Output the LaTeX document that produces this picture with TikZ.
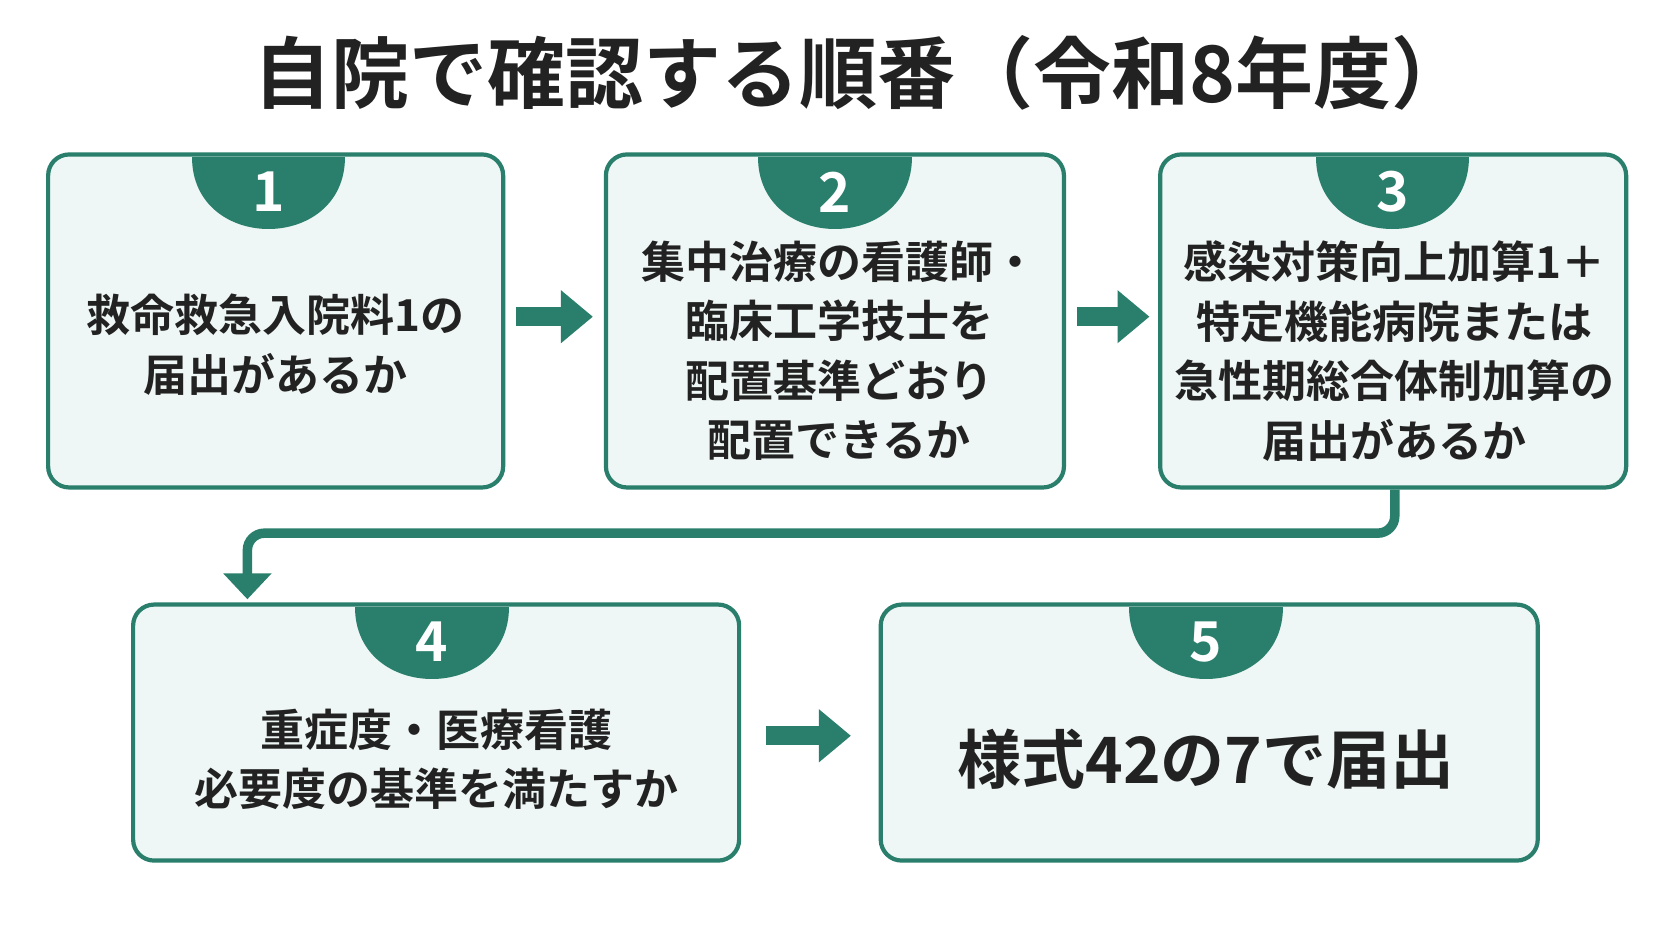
\documentclass[tikz,border=0pt]{standalone}
\usepackage{fontspec}
\setmainfont{Noto Sans CJK JP}[BoldFont={* Bold}]
\usetikzlibrary{arrows.meta}
\definecolor{teal1}{HTML}{2A7F6C}
\definecolor{fillc}{HTML}{EEF7F5}
\definecolor{txt}{HTML}{222222}
\begin{document}
\begin{tikzpicture}[x=1.0663pt,y=-1.0663pt,
 box/.style={draw=teal1,line width=4.2pt,fill=fillc,rounded corners=21pt,inner sep=0pt},
 txt/.style={text=txt,font=\bfseries\fontsize{44}{59.5}\selectfont,align=center},
 badge/.style={fill=teal1},
 num/.style={text=white,font=\bfseries\fontsize{55}{55}\selectfont},
 blk/.style={draw=teal1,line width=19pt,-{Triangle[length=32pt,width=51pt]}},
]
\path[use as bounding box] (0,0) rectangle (1568,882);
\fill[white] (0,0) rectangle (1568,882);
\node[text=txt,font=\bfseries\fontsize{78}{78}\selectfont] (title) at (808,68) {自院で確認する順番（令和8年度）};
% boxes
\node[box,minimum width=455pt,minimum height=333pt] (b1) at (258.5,301) {};
\node[box,minimum width=458pt,minimum height=333pt] (b2) at (783,301) {};
\node[box,minimum width=466pt,minimum height=333pt] (b3) at (1306.5,301) {};
\node[box,minimum width=606pt,minimum height=256pt] (b4) at (409,687) {};
\node[box,minimum width=657pt,minimum height=256pt] (b5) at (1134,687) {};
% badges
\foreach \cx/\cy/\n/\nm in {252/145/1/n1,783/145/2/n2,1306/145/3/n3,405/567/4/n4,1131/567/5/n5}{
 \fill[badge] (\cx-72,\cy+2) .. controls (\cx-72,\cy+92) and (\cx+72,\cy+92) .. (\cx+72,\cy+2) -- cycle;
 \node[num] (\nm) at (\cx,\cy+35) {\n};
}
% texts
\node[txt] (t1) at (258,323) {救命救急入院料1の\\届出があるか};
\node[txt] (t2) at (787,329) {集中治療の看護師・\\臨床工学技士を\\配置基準どおり\\配置できるか};
\node[txt] (t3) at (1308,329) {感染対策向上加算1＋\\特定機能病院または\\急性期総合体制加算の\\届出があるか};
\node[txt] (t4) at (409,712) {重症度・医療看護\\必要度の基準を満たすか};
\node[text=txt,font=\bfseries\fontsize{64}{64}\selectfont] (t5) at (1131,712) {様式42の7で届出};
% arrows
\coordinate (a1s) at (484,297); \coordinate (a1e) at (556,297);
\coordinate (a2s) at (1010,297); \coordinate (a2e) at (1078,297);
\coordinate (a3s) at (718,690); \coordinate (a3e) at (798,690);
\draw[blk] (a1s) -- (a1e);
\draw[blk] (a2s) -- (a2e);
\draw[blk] (a3s) -- (a3e);
\coordinate (c1) at (1308,500); \coordinate (c2) at (232,500); \coordinate (c3) at (232,562);
\draw[teal1,line width=9.5pt,rounded corners=17pt,-{Triangle[length=26pt,width=47pt]}] (b3.south -| c1) -- (c1) -- (c2) -- (c3);
\end{tikzpicture}
\end{document}
